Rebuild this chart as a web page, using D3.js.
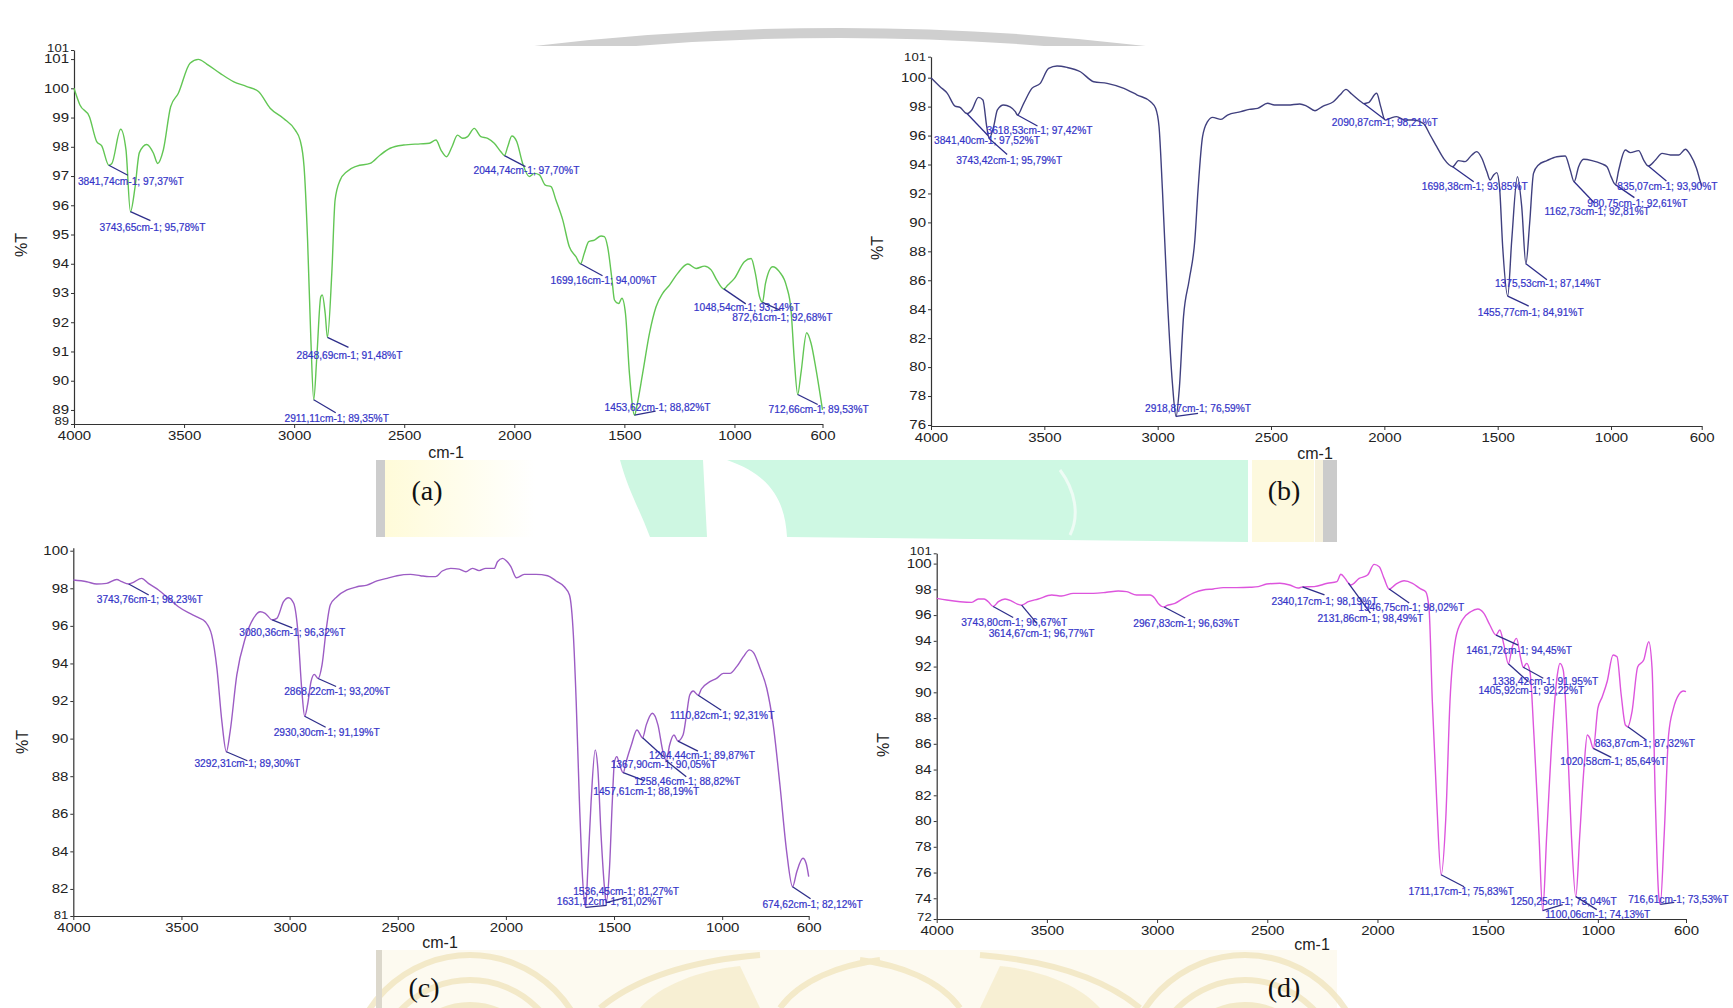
<!DOCTYPE html>
<html>
<head>
<meta charset="utf-8">
<script src="https://cdn.jsdelivr.net/npm/d3@7"></script>
<style>
  body { margin: 0; background: #fff; }
  svg { display: block; }
</style>
</head>
<body>
<script>
// Spectra: [wavenumber cm-1, %T]
const specA = [[4000,100.0],[3973,99.43],[3930,99.03],[3897,98.18],[3874,98.03],[3841.74,97.37],[3828,97.43],[3788,98.6],[3764,97.9],[3743.65,95.78],[3723,96.6],[3703,97.8],[3670,98.08],[3639,97.78],[3620,97.43],[3594,97.9],[3561,99.37],[3526,99.83],[3473,100.86],[3435,100.99],[3397,100.83],[3336,100.51],[3276,100.23],[3215,100.06],[3162,99.89],[3109,99.32],[3048,98.97],[2995,98.57],[2973,98.23],[2955,97.32],[2939,94.81],[2924,91.4],[2911.11,89.35],[2897,90.82],[2879,92.87],[2872,92.93],[2859,92.3],[2848.69,91.48],[2829,93.67],[2814,96.18],[2791,96.86],[2761,97.15],[2715,97.34],[2655,97.43],[2609,97.72],[2564,97.95],[2503,98.06],[2427,98.1],[2386,98.12],[2356,98.23],[2333,97.89],[2308,97.66],[2283,98.0],[2258,98.4],[2235,98.29],[2212,98.35],[2182,98.63],[2152,98.35],[2121,98.29],[2091,98.12],[2061,97.83],[2044.74,97.70],[2030,98.0],[2011,98.37],[1989,98.18],[1962,97.43],[1932,96.98],[1909,97.09],[1886,97.04],[1859,96.69],[1833,96.64],[1811,96.18],[1780,95.5],[1750,94.58],[1720,94.24],[1699.16,94.00],[1682,94.36],[1662,94.76],[1636,94.81],[1606,94.95],[1591,94.93],[1576,94.58],[1556,93.44],[1545,92.76],[1526,92.64],[1511,92.82],[1495,92.3],[1477,90.25],[1453.62,88.82],[1444,89.11],[1417,90.25],[1386,91.62],[1356,92.53],[1326,92.99],[1295,93.27],[1258,93.67],[1212,93.99],[1174,93.84],[1136,93.92],[1106,93.79],[1080,93.44],[1048.54,93.14],[1030,93.27],[1000,93.5],[955,94.07],[924,94.18],[905,93.67],[886,92.87],[872.61,92.68],[859,93.33],[826,93.9],[796,93.73],[763,93.22],[743,92.42],[728,90.71],[712.66,89.53],[698,90.25],[672,91.64],[652,91.28],[629,90.37],[600,89.0]];

const specB = [[4000,100.0],[3960,99.38],[3928,98.92],[3894,98.04],[3872,97.95],[3841.40,97.52],[3820,97.77],[3791,98.64],[3771,98.46],[3754,96.6],[3743.42,95.79],[3724,96.6],[3707,97.77],[3680,98.11],[3651,97.99],[3628,97.65],[3618.53,97.42],[3591,98.23],[3555,99.26],[3518,99.61],[3481,100.64],[3444,100.81],[3400,100.71],[3341,100.41],[3282,99.72],[3223,99.61],[3149,99.26],[3090,98.8],[3031,98.34],[3009,97.88],[2994,96.61],[2979,92.24],[2957,84.64],[2935,78.88],[2918.87,76.59],[2905,78.42],[2886,83.49],[2861,86.02],[2836,88.78],[2822,92.24],[2802,95.92],[2780,96.96],[2758,97.26],[2721,97.12],[2692,97.42],[2633,97.65],[2596,97.81],[2559,97.88],[2515,98.23],[2485,98.11],[2426,98.11],[2373,98.18],[2343,98.04],[2306,97.72],[2270,98.04],[2225,98.34],[2196,98.8],[2169,99.19],[2144,98.87],[2100,98.3],[2090.87,98.21],[2071,98.27],[2034,98.92],[2016,98.0],[1997,97.08],[1975,97.19],[1946,97.31],[1909,97.08],[1872,97.08],[1828,96.84],[1798,96.04],[1769,95.23],[1739,94.43],[1698.38,93.85],[1673,94.27],[1644,94.2],[1614,94.66],[1592,94.89],[1570,94.43],[1548,93.51],[1533,92.93],[1518,93.28],[1504,93.44],[1492,92.47],[1478,88.32],[1455.77,84.91],[1438,88.78],[1413,93.16],[1394,91.09],[1375.53,87.14],[1359,89.94],[1342,93.39],[1320,93.97],[1283,94.27],[1239,94.54],[1202,94.59],[1180,93.62],[1162.73,92.81],[1143,93.85],[1121,94.36],[1084,94.27],[1040,94.04],[1018,93.85],[1000,93.16],[980.75,92.61],[966,93.62],[937,95.0],[915,94.82],[878,94.96],[856,94.31],[835.07,93.90],[804,94.31],[775,94.77],[738,94.66],[701,94.66],[672,95.05],[650,94.66],[623,93.74],[606,92.81],[600,92.5]];

const specC = [[4000,98.44],[3938,98.35],[3892,98.23],[3846,98.26],[3799,98.47],[3776,98.35],[3743.76,98.23],[3722,98.32],[3684,98.53],[3653,98.26],[3606,97.91],[3560,97.46],[3514,97.02],[3468,96.7],[3421,96.44],[3390,96.22],[3360,95.51],[3336,93.74],[3313,90.9],[3292.31,89.30],[3275,90.37],[3244,93.39],[3205,95.34],[3167,96.4],[3136,96.75],[3113,96.67],[3080.36,96.32],[3059,96.4],[3028,97.29],[3005,97.5],[2981,97.2],[2963,95.87],[2943,92.5],[2930.30,91.19],[2917,91.79],[2901,93.03],[2886,93.42],[2868.22,93.20],[2850,93.92],[2830,95.87],[2812,97.11],[2781,97.55],[2735,97.91],[2688,98.08],[2642,98.17],[2596,98.39],[2549,98.53],[2503,98.67],[2441,98.74],[2395,98.67],[2355,98.62],[2325,98.62],[2294,98.92],[2255,99.06],[2216,99.02],[2185,98.88],[2155,99.06],[2124,98.94],[2093,99.06],[2054,99.06],[2039,99.41],[2015,99.59],[1997,99.45],[1977,99.15],[1951,98.56],[1915,98.74],[1861,98.74],[1807,98.67],[1768,98.39],[1730,98.08],[1706,97.64],[1688,95.51],[1675,91.97],[1660,86.65],[1648,83.1],[1631.12,81.02],[1621,83.1],[1606,86.65],[1587,89.4],[1575,88.42],[1560,84.87],[1544,82.04],[1536.45,81.27],[1521,83.1],[1508,86.65],[1498,88.77],[1487,89.04],[1474,88.6],[1457.61,88.19],[1444,88.77],[1420,89.66],[1394,90.46],[1367.90,90.05],[1351,90.73],[1323,91.35],[1297,90.73],[1274,89.31],[1258.46,88.82],[1243,89.66],[1223,90.19],[1204.44,89.87],[1181,90.19],[1165,91.26],[1150,92.32],[1134,92.53],[1110.82,92.31],[1096,92.64],[1057,93.03],[1026,93.21],[995,93.47],[964,93.47],[933,93.83],[902,94.36],[874,94.72],[856,94.59],[825,93.74],[794,92.68],[764,90.73],[733,87.53],[702,83.99],[674.62,82.12],[655,82.92],[627,83.63],[612,83.37],[600,82.66]];

const specD = [[4000,97.3],[3955,97.17],[3894,97.04],[3841,96.99],[3811,97.25],[3785,97.25],[3766,97.04],[3743.80,96.67],[3720,97.04],[3690,97.25],[3660,97.09],[3634,96.85],[3614.67,96.77],[3584,97.04],[3539,97.25],[3478,97.56],[3433,97.48],[3380,97.69],[3289,97.69],[3229,97.77],[3176,97.87],[3138,97.82],[3093,97.56],[3032,97.56],[3010,97.3],[2995,96.91],[2967.83,96.63],[2957,96.73],[2919,96.91],[2881,97.3],[2828,97.77],[2791,97.95],[2745,98.03],[2700,98.13],[2639,98.13],[2579,98.16],[2541,98.21],[2503,98.41],[2443,98.47],[2398,98.34],[2360,98.1],[2340.17,98.19],[2287,98.21],[2227,98.47],[2184,98.6],[2166,99.17],[2147,98.85],[2131.86,98.49],[2121,98.34],[2083,98.85],[2045,99.11],[2015,99.94],[1992,99.76],[1970,98.85],[1946.75,98.02],[1917,98.39],[1879,98.67],[1841,98.47],[1804,98.03],[1781,97.82],[1766,96.52],[1751,89.27],[1731,81.5],[1711.17,75.83],[1690,80.2],[1671,89.27],[1645,94.19],[1615,95.62],[1577,96.26],[1545,96.47],[1517,96.13],[1490,95.23],[1461.72,94.45],[1445,94.84],[1426,93.67],[1405.92,92.22],[1388,93.54],[1369,94.19],[1350,92.64],[1338.42,91.95],[1323,92.25],[1308,91.6],[1290,86.68],[1267,78.91],[1250.25,73.04],[1232,78.91],[1207,86.68],[1184,91.34],[1172,92.25],[1157,91.73],[1139,86.68],[1120,78.91],[1100.06,74.13],[1082,78.91],[1063,84.1],[1048,86.68],[1036,86.42],[1020.58,85.64],[1000,88.75],[980,89.66],[958,90.82],[931,92.9],[913,92.77],[894,89.79],[875,87.46],[863.87,87.32],[845,88.49],[819,91.99],[792,92.51],[769,93.93],[754,91.86],[739,81.5],[724,74.24],[716.61,73.53],[699,78.91],[679,86.68],[657,88.75],[634,89.79],[611,90.1],[600,90.05]];

// Labelled peaks: [wavenumber, %T]
const peaksA = [[3841.74,97.37],[3743.65,95.78],[2911.11,89.35],[2848.69,91.48],[2044.74,97.70],[1699.16,94.00],[1453.62,88.82],[1048.54,93.14],[872.61,92.68],[712.66,89.53]];
const peaksB = [[3841.40,97.52],[3743.42,95.79],[3618.53,97.42],[2918.87,76.59],[2090.87,98.21],[1698.38,93.85],[1455.77,84.91],[1375.53,87.14],[1162.73,92.81],[980.75,92.61],[835.07,93.90]];
const peaksC = [[3743.76,98.23],[3292.31,89.30],[3080.36,96.32],[2930.30,91.19],[2868.22,93.20],[1631.12,81.02],[1536.45,81.27],[1457.61,88.19],[1367.90,90.05],[1258.46,88.82],[1204.44,89.87],[1110.82,92.31],[674.62,82.12]];
const peaksD = [[3743.80,96.67],[3614.67,96.77],[2967.83,96.63],[2340.17,98.19],[2131.86,98.49],[1946.75,98.02],[1711.17,75.83],[1461.72,94.45],[1405.92,92.22],[1338.42,91.95],[1250.25,73.04],[1100.06,74.13],[1020.58,85.64],[863.87,87.32],[716.61,73.53]];

const xTicks = [4000, 3500, 3000, 2500, 2000, 1500, 1000, 600];
const panelTags = ["(a)", "(b)", "(c)", "(d)"];

// leader end (dx,dy) and label centre (lx,ly) offsets in px, per peak label
const leadA = [[19,10,22,16],[20,9,22,16],[22,13,23,19],[21,10,22,18],[21,11,22,15],[22,12,23,17],[21,-4,23,-8],[22,15,23,19],[18,8,20,15],[20,10,21,15]];
const leadB = [[21,22,20,27],[18,16,20,22],[20,11,22,15],[22,-3,22,-8],[21,16,21,19],[21,15,22,20],[21,10,23,16],[21,16,22,20],[20,21,23,30],[19,13,22,19],[18,15,19,20]];
const leadC = [[20,11,21,15],[21,9,21,12],[20,8,20,13],[21,11,22,16],[18,8,19,13],[21,-2,24,-6],[19,-5,20,-11],[21,8,23,19],[21,19,21,27],[20,16,21,21],[20,10,24,14],[23,15,24,20],[18,12,20,18]];
const leadD = [[20,11,21,16],[15,18,20,28],[21,11,22,16],[22,8,22,15],[22,30,22,35],[20,14,22,18],[23,12,20,17],[22,10,23,15],[20,18,23,27],[20,11,22,14],[20,-6,21,-9],[21,13,22,18],[18,9,20,13],[18,13,17,17],[14,-2,18,-5]];

const W = 1733, H = 1008;
const svg = d3.select("body").append("svg").attr("width", W).attr("height", H);

// ---- background watermark pieces of the page ----
const bg = svg.append("g");
const defs = svg.append("defs");
defs.append("clipPath").attr("id", "topcut").append("rect").attr("x", 0).attr("y", 0).attr("width", W).attr("height", 46);
const R = 2600;
const arcEnd = 33 + R - Math.sqrt(R * R - 330 * 330);
bg.append("path")
  .attr("d", `M510,${arcEnd} A${R},${R} 0 0 1 1170,${arcEnd}`)
  .attr("fill", "none").attr("stroke", "#cfcfcf").attr("stroke-width", 10)
  .attr("clip-path", "url(#topcut)");

const yg = defs.append("linearGradient").attr("id", "ylw");
yg.append("stop").attr("offset", "0%").attr("stop-color", "#fffbd9");
yg.append("stop").attr("offset", "100%").attr("stop-color", "#ffffff");
bg.append("rect").attr("x", 376).attr("y", 460).attr("width", 9).attr("height", 77).attr("fill", "#cdcdcd");
bg.append("rect").attr("x", 385).attr("y", 460).attr("width", 150).attr("height", 77).attr("fill", "url(#ylw)");
bg.append("path").attr("d", "M620,460 L703,460 L707,537 L650,537 C640,510 628,490 620,460Z").attr("fill", "#cef7e2");
bg.append("path").attr("d", "M727,460 L1248,460 L1248,542 L787,537 C785,500 770,475 727,460Z").attr("fill", "#cef8e3");
bg.append("path").attr("d", "M1060,470 C1075,490 1080,515 1070,535").attr("fill", "none").attr("stroke", "#eefcf5").attr("stroke-width", 3);
bg.append("rect").attr("x", 1252).attr("y", 460).attr("width", 62).attr("height", 82).attr("fill", "#fdf9de");
bg.append("rect").attr("x", 1315).attr("y", 460).attr("width", 8).attr("height", 82).attr("fill", "#f6f1dc");
bg.append("rect").attr("x", 1323).attr("y", 460).attr("width", 14).attr("height", 82).attr("fill", "#cbcbcb");

bg.append("rect").attr("x", 376).attr("y", 950).attr("width", 961).attr("height", 58).attr("fill", "#fdfaf0");
const swirl = bg.append("g").attr("fill", "none").attr("stroke", "#efe2b8").attr("stroke-width", 6).attr("opacity", 0.7);
[[470, 1075, 70], [470, 1075, 95], [470, 1075, 120], [1245, 1075, 70], [1245, 1075, 95], [1245, 1075, 120]].forEach(c => {
  swirl.append("circle").attr("cx", c[0]).attr("cy", c[1]).attr("r", c[2]);
});
swirl.append("path").attr("d", "M600,1008 C640,975 700,960 760,955 M780,1008 C800,980 840,965 880,960 M1140,1008 C1100,975 1040,960 980,955 M960,1008 C940,980 900,965 860,960");
bg.append("path").attr("d", "M640,1008 C660,985 700,970 740,966 L760,1008Z M1100,1008 C1080,985 1040,970 1000,966 L980,1008Z")
  .attr("fill", "#f4e7c0").attr("opacity", 0.6);
bg.append("rect").attr("x", 376).attr("y", 950).attr("width", 6).attr("height", 58).attr("fill", "#dcd8cc");

// ---- the four spectra ----
const panels = [
  { spec: specA, peaks: peaksA, lead: leadA, color: "#62c654", x0: 74, x1: 822.5, yb: 424, yt: 50, ymin: 88.52, ymax: 101.31, step: 1, endShift: [-3, -2], yLab: [21, 245], xLab: [446, 452], tag: [427, 500] },
  { spec: specB, peaks: peaksB, lead: leadB, color: "#40407f", x0: 931, x1: 1701.7, yb: 426, yt: 56.7, ymin: 75.93, ymax: 101.45, step: 2, endShift: [0, 0], yLab: [877, 248], xLab: [1315, 453], tag: [1284, 500] },
  { spec: specC, peaks: peaksC, lead: leadC, color: "#9c5cc4", x0: 73.3, x1: 808.7, yb: 916, yt: 547.7, ymin: 80.56, ymax: 100.16, step: 2, endShift: [-1, 0], yLab: [22, 742], xLab: [440, 942], tag: [424, 997] },
  { spec: specD, peaks: peaksD, lead: leadD, color: "#dd55dd", x0: 936.7, x1: 1686, yb: 919, yt: 553.3, ymin: 72.39, ymax: 100.8, step: 2, endShift: [-2, -2], yLab: [883, 745], xLab: [1312, 944], tag: [1284, 997] }
];

const fmtNum = v => v.toFixed(2).replace(".", ",");
const font = "'Liberation Sans', Arial, sans-serif";

panels.forEach((p, i) => {
  const g = svg.append("g");
  const x = d3.scaleLinear().domain([4000, 600]).range([p.x0, p.x1]);
  const y = d3.scaleLinear().domain([p.ymin, p.ymax]).range([p.yb, p.yt]);

  const regular = d3.range(Math.ceil(p.ymin / p.step) * p.step, p.ymax + 1e-6, p.step);
  const ends = [p.ymin, p.ymax].filter(v => regular.every(t => Math.abs(t - v) > 0.2));
  const yVals = regular.concat(ends);

  const yAxis = g.append("g")
    .attr("transform", `translate(${p.x0},0)`)
    .call(d3.axisLeft(y).tickValues(yVals).tickFormat(d3.format(".0f")).tickSize(3).tickSizeOuter(0).tickPadding(1));

  const xAxis = g.append("g")
    .attr("transform", `translate(0,${p.yb})`)
    .call(d3.axisBottom(x).tickValues(xTicks).tickFormat(d3.format("d")).tickSize(4).tickSizeOuter(0).tickPadding(3));

  [yAxis, xAxis].forEach(a => {
    a.select(".domain").attr("stroke", "#333").attr("stroke-width", 1.2);
    a.selectAll(".tick line").attr("stroke", "#333");
    a.selectAll("text").attr("fill", "#222").attr("font-size", 12).attr("font-family", font)
      .attr("transform", "scale(1.25,1)");
  });
  // axis-end labels sit squeezed next to the neighbouring tick, as in the source software
  yAxis.selectAll("text").filter(d => ends.includes(d))
    .attr("font-size", 10.5)
    .attr("y", d => d === p.ymin ? p.endShift[0] : p.endShift[1]);

  const line = d3.line().x(d => x(d[0])).y(d => y(d[1])).curve(d3.curveMonotoneX);
  g.append("path").datum(p.spec)
    .attr("d", line)
    .attr("fill", "none").attr("stroke", p.color).attr("stroke-width", 1.4).attr("stroke-linejoin", "round");

  // peak labels
  const ann = g.append("g");
  p.peaks.forEach((pk, k) => {
    const px = x(pk[0]), py = y(pk[1]);
    const o = p.lead[k];
    ann.append("line")
      .attr("x1", px).attr("y1", py).attr("x2", px + o[0]).attr("y2", py + o[1])
      .attr("stroke", "#2e2e8a").attr("stroke-width", 1.3);
    ann.append("text")
      .attr("x", px + o[2]).attr("y", py + o[3])
      .attr("text-anchor", "middle").attr("dy", "0.35em")
      .attr("font-family", font).attr("font-size", 10.2).attr("fill", "#3434c8")
      .attr("stroke", "#3434c8").attr("stroke-width", 0.2)
      .text(`${fmtNum(pk[0])}cm-1; ${fmtNum(pk[1])}%T`);
  });

  g.append("text")
    .attr("transform", `translate(${p.yLab[0]},${p.yLab[1]}) rotate(-90)`)
    .attr("text-anchor", "middle").attr("dy", "0.35em")
    .attr("font-family", font).attr("font-size", 16).attr("fill", "#222")
    .text("%T");
  g.append("text")
    .attr("x", p.xLab[0]).attr("y", p.xLab[1])
    .attr("text-anchor", "middle").attr("dy", "0.35em")
    .attr("font-family", font).attr("font-size", 16).attr("fill", "#222")
    .text("cm-1");

  svg.append("text")
    .attr("x", p.tag[0]).attr("y", p.tag[1])
    .attr("text-anchor", "middle")
    .attr("font-family", "'Liberation Serif', 'Times New Roman', serif").attr("font-size", 28).attr("fill", "#111")
    .text(panelTags[i]);
});
</script>
</body>
</html>
